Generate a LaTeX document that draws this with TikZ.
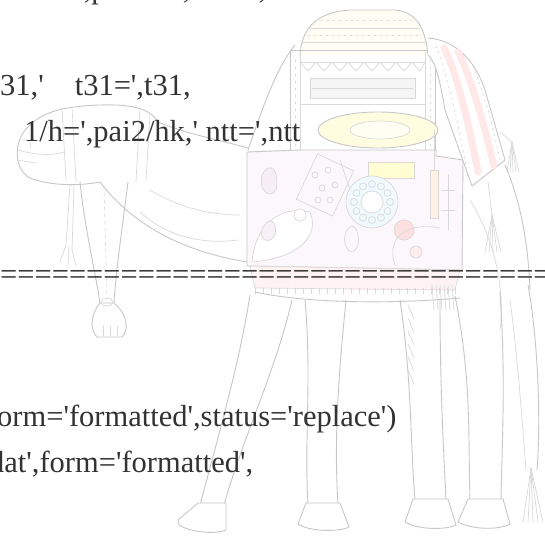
\documentclass[tikz,border=0pt]{standalone}
\usepackage{fontspec}
\newfontfamily\codefont{Liberation Serif}
\begin{document}
\begin{tikzpicture}[x=1pt,y=-1pt,
  cl/.style={draw=black!22,line width=0.9pt,line join=round,line cap=round},
  cd/.style={draw=black!15,line width=0.7pt,line join=round,line cap=round},
  stripe/.style={draw=red!9,line width=7pt,line cap=round},
  codeline/.style={anchor=base west,inner sep=0pt,text=black!80,font=\codefont\fontsize{30.5}{36}\selectfont}]
\useasboundingbox (0,0) rectangle (544,549);
\clip (0,0) rectangle (544,549);
\fill[white] (0,0) rectangle (544,549);
% ---------------- camel: head ----------------
\draw[cl] (30,178) .. controls (14,170) and (12,140) .. (30,125)
  .. controls (45,110) and (70,106) .. (100,105)
  .. controls (130,104) and (150,108) .. (158,122);
\draw[cl] (30,178) .. controls (50,186) and (80,186) .. (100,182);
\draw[cd] (22,140) .. controls (28,138) and (32,142) .. (30,148);
\draw[cd] (17,160) -- (36,163);
\draw[cd] (18,150) .. controls (35,155) and (50,156) .. (64,152);
\draw[cd] (62,108) -- (66,180);
\draw[cd] (72,107) -- (76,182);
\draw[cd] (140,108) -- (136,182);
\draw[cd] (150,114) -- (146,180);
% neck
\draw[cl] (158,122) .. controls (190,135) and (220,140) .. (248,148);
\draw[cl] (100,182) .. controls (125,215) and (170,250) .. (248,262);
\draw[cd] (140,212) .. controls (165,235) and (200,245) .. (238,240);
\draw[cd] (150,190) .. controls (175,205) and (205,215) .. (240,215);
% strap and pendant
\draw[cl] (80,182) .. controls (85,230) and (95,270) .. (100,303);
\draw[cl] (128,182) .. controls (122,230) and (116,270) .. (114,303);
\draw[cd,dash pattern=on 3pt off 4pt] (104,186) -- (107,300);
\draw[cd] (70,185) -- (66,245);
\draw[cd] (74,186) -- (72,250);
\draw[cd] (66,245) -- (60,262);
\draw[cd] (69,246) -- (68,265);
\draw[cd] (72,250) -- (76,266);
\draw[cl,fill=white] (100,303) .. controls (90,315) and (90,330) .. (97,337)
  -- (122,337) .. controls (129,330) and (128,315) .. (114,303) -- cycle;
\draw[cd] (107,302) ellipse [x radius=6,y radius=4];
\draw[cd] (103,326) -- (103,336);
\draw[cd] (110,326) -- (110,336);
\draw[cd] (117,326) -- (117,336);
% ---------------- hump and saddle ----------------
\draw[cl] (248,150) .. controls (262,110) and (275,70) .. (295,45);
\draw[cl,fill=yellow!4] (300,55) .. controls (302,25) and (320,12) .. (350,10)
  -- (395,10) .. controls (415,12) and (425,25) .. (428,55);
\draw[cd] (303,42) -- (426,42);
\draw[cd] (310,28) -- (420,28);
\draw[cd,dash pattern=on 2pt off 4pt] (308,35) -- (422,35);
\draw[cd,dash pattern=on 2pt off 4pt] (315,20) -- (412,20);
\draw[cl] (290,50) -- (290,236);
\draw[cd] (300,52) -- (300,236);
\draw[cd] (425,52) -- (425,240);
\draw[cl] (435,50) -- (435,240);
\draw[cl] (290,50) -- (435,50);
\draw[cd] (300,62) -- (425,62);
\draw[cd] (300,62) -- (308,71) -- (316,62) -- (324,71) -- (332,62) -- (340,71) -- (348,62)
  -- (356,71) -- (364,62) -- (372,71) -- (380,62) -- (388,71) -- (396,62) -- (404,71)
  -- (412,62) -- (420,71) -- (425,62);
\draw[cd,fill=black!4] (310,78) rectangle (415,98);
\draw[cd] (312,88) -- (413,88);
\draw[cd] (300,104) -- (425,104);
\draw[cd,dash pattern=on 2pt off 5pt] (295,60) -- (295,230);
\draw[cd,dash pattern=on 2pt off 5pt] (430,60) -- (430,230);
% saddle blanket panel
\draw[cl,fill=violet!3] (247,152) -- (247,266) -- (462,270) -- (463,160) -- (436,156)
  -- (436,150) -- (300,150) -- cycle;
\draw[cd,fill=red!5] (250,266) -- (460,270) -- (455,290) -- (255,288) -- cycle;
\foreach \xx in {255,263,...,455} \draw[cd] (\xx,288) -- (\xx,294);
\foreach \xx in {432,436,...,452} \draw[cd] (\xx,285) -- (\xx+2,310);
% plate
\draw[cl,fill=yellow!12] (378,130) ellipse [x radius=60,y radius=18];
\draw[cd,fill=yellow!5] (380,130) ellipse [x radius=30,y radius=9];
\draw[cd,fill=yellow!18] (368,162) rectangle (414,178);
% decorations
\draw[cd,fill=cyan!6] (372,202) circle (26);
\draw[cd,fill=white] (372,202) circle (11);
\foreach \a in {0,30,...,330} \draw[cd] (372,202) ++(\a:18) circle (3.5);
\draw[cd,fill=red!12] (404,230) circle (10);
\draw[cd] (395,265) .. controls (385,235) and (410,222) .. (440,228);
\draw[cd,fill=red!7] (416,252) circle (6);
\draw[cd,fill=white] (252,262) .. controls (255,225) and (280,205) .. (310,212)
  .. controls (320,235) and (300,258) .. (252,262);
\draw[cd,fill=white] (300,215) circle (6);
\draw[cd,rotate around={-25:(325,185)}] (305,160) rectangle (345,210);
\foreach \p in {(315,175),(328,170),(322,188),(335,185),(330,200),(318,200)}
  \draw[cd] \p circle (3);
\draw[cd,fill=violet!7] (262,175) .. controls (270,160) and (280,170) .. (276,190)
  .. controls (270,200) and (258,190) .. (262,175);
\draw[cd,fill=violet!6] (262,230) .. controls (268,215) and (278,220) .. (275,235)
  .. controls (270,245) and (258,240) .. (262,230);
\draw[cd] (345,235) .. controls (350,220) and (360,225) .. (358,245)
  .. controls (354,258) and (342,250) .. (345,235);
\draw[cd] (340,160) -- (350,190);
\draw[cd] (448,175) -- (448,230);
\draw[cd] (442,190) -- (455,190);
\draw[cd] (442,210) -- (455,210);
\draw[cd] (434,130) -- (434,170);
\draw[cd,fill=orange!10] (430,170) rectangle (438,218);
% right striped blanket
\draw[cl,fill=white] (428,38) .. controls (455,40) and (475,60) .. (485,90)
  -- (505,160) -- (472,186) -- (445,110) .. controls (440,80) and (435,60) .. (428,55);
\draw[stripe] (444,48) .. controls (456,70) and (468,120) .. (478,172);
\draw[stripe] (458,52) .. controls (472,80) and (484,125) .. (494,166);
\draw[cd,dash pattern=on 2pt off 4pt] (436,46) .. controls (446,70) and (458,120) .. (468,178);
\draw[cd,dash pattern=on 2pt off 4pt] (470,60) .. controls (484,90) and (494,130) .. (500,160);
% tassels
\draw[cd] (500,132) -- (512,142);
\foreach \dx in {-5,-2,1,4,7} \draw[cd] (512,142) -- (512+\dx,172);
\draw[cd] (488,182) -- (492,215);
\foreach \dx in {-7,-3,1,5,9} \draw[cd] (492,215) -- (492+\dx,252);
% ---------------- body ----------------
\draw[cl] (505,165) .. controls (520,200) and (528,240) .. (530,290);
\draw[cl] (255,292) .. controls (300,302) and (380,305) .. (460,298);
\draw[cl] (528,285) .. controls (538,340) and (541,420) .. (537,470);
\draw[cd] (510,300) .. controls (518,360) and (522,420) .. (526,470);
\foreach \dx in {-8,-3,2,7,12} \draw[cd] (531,468) -- (531+\dx,522);
\draw[cd] (470,200) .. controls (495,240) and (505,290) .. (500,330);
\foreach \yy in {305,318,...,370} \draw[cd] (408,\yy) -- (414,\yy+14);
% legs
\draw[cl] (250,295) .. controls (240,360) and (220,430) .. (200,505);
\draw[cl] (292,300) .. controls (276,370) and (242,440) .. (224,505);
\draw[cl,fill=white] (198,503) -- (178,520) .. controls (174,530) and (214,536) .. (226,530) -- (226,503) -- cycle;
\draw[cl] (305,300) .. controls (312,380) and (304,440) .. (308,505);
\draw[cl] (346,300) .. controls (338,380) and (334,440) .. (338,505);
\draw[cl,fill=white] (306,503) -- (298,524) .. controls (310,532) and (340,532) .. (349,527) -- (340,503) -- cycle;
\draw[cl] (400,300) .. controls (412,380) and (410,440) .. (415,500);
\draw[cl] (440,300) .. controls (440,380) and (443,440) .. (446,500);
\draw[cl,fill=white] (413,499) -- (405,522) .. controls (418,530) and (446,530) .. (456,525) -- (448,499) -- cycle;
\draw[cl] (455,296) .. controls (472,380) and (468,440) .. (470,500);
\draw[cl] (500,292) .. controls (506,380) and (502,440) .. (501,500);
\draw[cl,fill=white] (468,499) -- (458,522) .. controls (472,530) and (500,530) .. (510,524) -- (503,499) -- cycle;
% ---------------- text ----------------
\node[codeline] (t0) at (22,-1.5) {1/h=',pai1/hk,' ntt=',ntt};
\node[codeline] (t1) at (0,95) {31,'\hspace{31pt}t31=',t31,};
\node[codeline] (t2) at (24,141) {1/h=',pai2/hk,' ntt=',ntt};
\node[codeline] (t3) at (0,284) {=================================};
\node[codeline] (t4) at (-3,426) {orm='formatted',status='replace')};
\node[codeline] (t5) at (-11,472) {dat',form='formatted',};
\end{tikzpicture}
\end{document}
